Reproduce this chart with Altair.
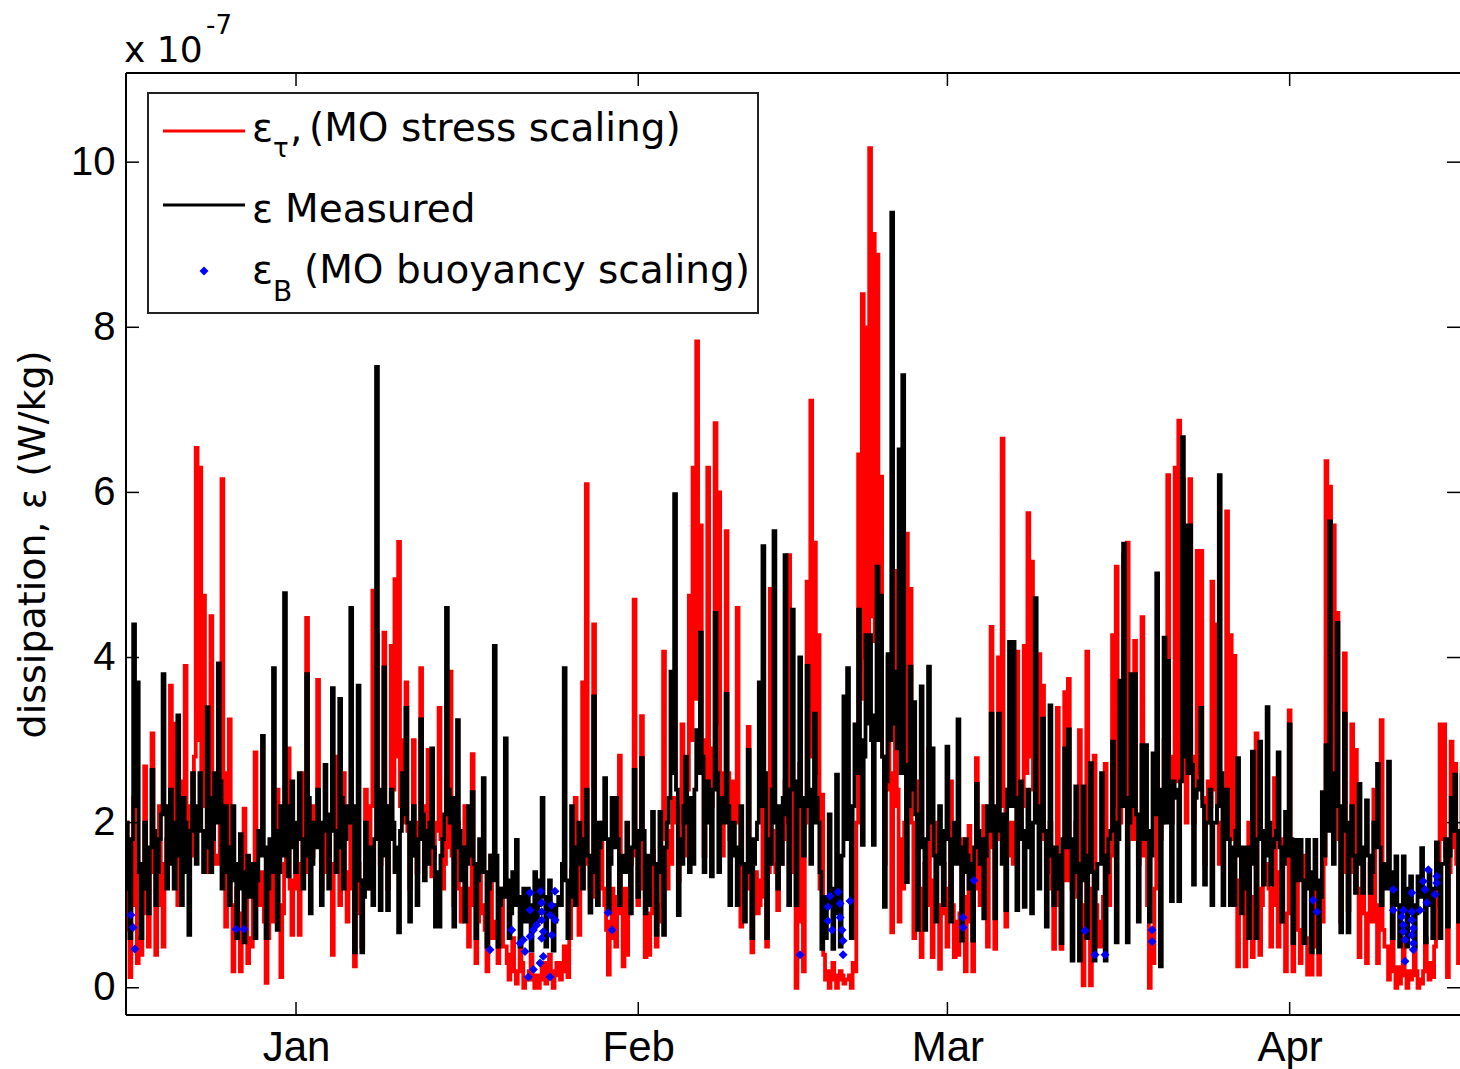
import altair as alt
import pandas as pd

# ---------------- data (values in units of 1e-7 W/kg) ----------------
START_DAY = -16          # days since 2011-01-01 of first row (Dec 16, 2010)
SLOTS = 3                # main readings per day (00, 08, 16 h)

# main readings (peaks / troughs)
red_by_day = [
    [1.0, 0.3, 2.0], [0.13, 2.3, 0.3], [0.4, 2.68, 0.5], [3.08, 0.4, 2.2], [0.5, 1.8, 3.66],
    [3.2, 1.0, 2.5], [3.9, 1.5, 2.2], [6.54, 6.3, 4.75], [1.4, 4.5, 1.5], [1.5, 6.16, 0.74],
    [3.25, 0.2, 1.2], [0.2, 2.17, 0.3], [0.5, 2.85, 1.0], [1.4, 0.06, 1.6], [0.8, 2.4, 0.13],
    [1.5, 2.9, 0.64],
    # January
    [1.8, 0.64, 2.6], [4.48, 1.5, 2.2], [3.73, 1.2, 2.0], [2.0, 0.4, 2.8], [1.0, 2.6, 0.8],
    [2.0, 0.26, 1.5], [0.5, 2.4, 1.2], [4.81, 4.27, 1.5], [4.3, 1.2, 4.14], [4.95, 5.4, 3.0],
    [3.7, 1.2, 3.0], [1.4, 3.87, 2.0], [2.88, 1.35, 2.0], [3.39, 1.2, 2.5], [3.83, 1.0, 2.0],
    [0.8, 2.2, 0.5], [2.83, 0.3, 1.5], [1.0, 0.2, 1.6], [0.8, 0.3, 1.2], [0.5, 0.1, 0.6],
    [0.05, 0.6, 0.0], [0.1, 0.4, 0.0], [0.0, 0.3, 0.05], [0.4, 0.0, 0.3], [0.1, 0.5, 0.13],
    [1.42, 2.3, 0.64], [3.7, 6.1, 1.2], [4.4, 1.0, 2.0], [1.0, 0.16, 1.2], [0.5, 2.81, 0.26],
    [0.4, 1.5, 4.7],
    # February
    [1.0, 3.29, 0.37], [0.4, 1.66, 0.5], [1.0, 4.07, 1.2], [1.5, 2.2, 1.3], [3.19, 1.6, 4.75],
    [6.3, 7.83, 5.6], [1.6, 6.3, 2.2], [6.84, 6.0, 1.6], [5.53, 1.8, 2.5], [4.6, 0.74, 1.5],
    [3.16, 0.43, 1.4], [1.0, 2.5, 0.5], [4.83, 1.5, 0.94], [1.5, 2.5, 5.24], [2.5, 0.0, 2.71],
    [0.2, 4.92, 7.11], [5.39, 4.27, 2.34], [0.1, 0.0, 0.3], [0.0, 0.2, 0.05], [0.1, 0.0, 0.2],
    [6.46, 8.4, 8.0], [10.17, 9.13, 8.88], [6.19, 1.5, 4.0], [0.67, 5.05, 0.8], [1.2, 5.5, 4.83],
    [0.6, 2.5, 0.37], [1.5, 2.9, 0.37], [2.0, 0.23, 1.5],
    # March
    [0.5, 2.5, 0.37], [0.4, 1.8, 0.2], [1.96, 0.2, 2.78], [1.0, 2.2, 0.5], [4.37, 0.47, 4.0],
    [6.65, 0.74, 2.0], [1.5, 4.07, 1.8], [4.14, 5.75, 5.16], [2.5, 4.04, 3.66], [1.5, 2.0, 0.47],
    [3.39, 0.47, 3.58], [3.74, 1.2, 2.0], [3.12, 0.03, 4.07], [0.03, 2.81, 0.5], [0.5, 2.71, 1.0],
    [4.27, 5.1, 2.0], [5.25, 5.39, 2.0], [4.2, 1.5, 4.49], [1.8, 0.0, 0.3], [2.4, 1.8, 3.0],
    [6.21, 2.0, 6.3], [6.87, 6.16, 2.0], [6.16, 2.0, 5.29], [5.29, 1.5, 2.5], [4.92, 4.4, 1.5],
    [2.0, 5.77, 4.27], [4.02, 0.26, 1.5], [0.26, 2.0, 0.37], [3.08, 0.4, 1.5], [1.5, 0.5, 2.54],
    [0.5, 1.8, 0.2],
    # April
    [3.36, 0.2, 1.5], [0.3, 1.6, 0.16], [0.16, 1.2, 0.16], [0.8, 6.38, 6.07], [5.6, 4.54, 0.8],
    [4.05, 0.94, 3.19], [2.88, 0.37, 1.5], [0.3, 1.5, 2.4], [0.3, 3.24, 0.5], [0.1, 1.2, 0.0],
    [0.05, 0.6, 0.0], [0.1, 0.5, 0.0], [0.05, 0.6, 0.1], [0.13, 1.0, 3.19], [3.19, 0.13, 2.98],
    [2.71, 0.3, 2.71], [1.0, 2.0, 1.0],
]

# in-between readings (04, 12, 20 h) - body of the band
red_mid_by_day = [
    [0.8, 1.2, 0.7], [1.0, 1.4, 0.6], [1.2, 0.9, 1.4], [1.6, 1.0, 1.5], [1.3, 1.8, 1.9],
    [1.6, 1.3, 1.8], [2.2, 1.6, 2.8], [3.0, 2.5, 2.2], [2.0, 2.4, 1.6], [2.0, 2.6, 1.2],
    [1.0, 0.6, 0.9], [0.9, 1.1, 0.6], [1.3, 1.0, 1.4], [0.8, 0.6, 1.1], [1.4, 1.0, 0.9],
    [1.6, 1.2, 1.3],
    # January
    [1.2, 1.5, 1.4], [2.2, 1.6, 1.8], [1.9, 1.6, 1.4], [1.3, 1.5, 1.7], [1.6, 1.4, 1.2],
    [1.2, 0.9, 1.0], [1.3, 1.6, 2.2], [2.4, 2.0, 1.8], [2.2, 2.0, 2.4], [2.8, 2.2, 2.0],
    [1.9, 1.8, 1.6], [2.0, 2.2, 1.7], [1.8, 1.6, 1.9], [1.8, 1.5, 1.7], [1.6, 1.4, 1.2],
    [1.1, 0.9, 1.2], [1.0, 0.8, 0.9], [0.7, 0.8, 0.6], [0.6, 0.7, 0.5], [0.3, 0.4, 0.2],
    [0.2, 0.3, 0.1], [0.2, 0.1, 0.15], [0.1, 0.2, 0.3], [0.2, 0.15, 0.25], [0.3, 0.2, 0.6],
    [1.0, 1.3, 1.6], [2.0, 1.5, 1.1], [1.8, 1.3, 1.2], [0.7, 0.8, 0.6], [1.1, 0.9, 1.2],
    [0.9, 1.6, 1.8],
    # February
    [1.5, 1.2, 0.9], [0.9, 1.1, 0.8], [1.8, 2.0, 1.9], [2.3, 2.0, 2.2], [2.0, 2.4, 3.0],
    [3.5, 3.6, 3.0], [2.4, 2.9, 2.6], [3.2, 2.6, 2.4], [2.6, 2.2, 2.0], [2.0, 1.4, 1.2],
    [1.5, 1.0, 0.9], [1.3, 1.1, 1.4], [1.9, 1.4, 1.6], [1.8, 2.0, 2.6], [1.4, 0.8, 1.8],
    [2.0, 2.8, 3.2], [2.6, 1.2, 0.4], [0.2, 0.1, 0.15], [0.1, 0.15, 0.1], [0.15, 0.3, 2.0],
    [3.5, 4.0, 3.8], [4.5, 4.2, 3.6], [2.8, 2.4, 2.6], [2.2, 2.4, 1.8], [2.0, 2.6, 2.0],
    [1.4, 1.2, 1.0], [1.2, 1.0, 1.3], [1.0, 0.9, 1.1],
    # March
    [1.2, 1.0, 0.8], [0.9, 1.1, 0.8], [1.0, 1.2, 1.5], [1.6, 1.3, 1.7], [2.0, 1.8, 2.2],
    [2.4, 1.8, 1.6], [2.0, 1.8, 2.2], [2.6, 2.8, 2.4], [2.2, 2.0, 1.8], [1.4, 1.2, 1.0],
    [1.4, 1.6, 1.3], [1.5, 1.2, 1.1], [1.0, 0.8, 1.2], [0.9, 1.0, 0.8], [1.1, 1.3, 1.6],
    [2.2, 2.0, 2.4], [2.4, 2.2, 1.8], [2.0, 1.9, 1.6], [1.0, 0.7, 1.2], [1.8, 2.0, 2.2],
    [2.6, 2.8, 2.5], [3.0, 2.8, 2.6], [2.8, 2.4, 2.6], [2.3, 2.0, 2.2], [2.4, 2.0, 1.8],
    [2.2, 2.4, 1.8], [1.3, 1.0, 1.2], [1.0, 0.9, 1.1], [1.2, 1.0, 1.3], [1.2, 1.0, 1.4],
    [1.0, 0.8, 0.9],
    # April
    [1.0, 0.8, 0.7], [0.7, 0.6, 0.5], [0.5, 0.6, 0.8], [1.5, 2.2, 2.6], [2.4, 1.8, 1.4],
    [1.6, 1.4, 1.5], [1.2, 1.0, 0.9], [0.9, 0.8, 1.0], [0.9, 0.7, 0.5], [0.3, 0.2, 0.25],
    [0.2, 0.15, 0.2], [0.15, 0.2, 0.1], [0.2, 0.25, 0.3], [0.5, 1.2, 1.8], [1.6, 1.4, 1.7],
    [1.5, 1.2, 1.6], [1.2, 1.3, 1.2],
]

black_by_day = [
    [1.5, 0.8, 2.0], [0.6, 4.4, 3.7], [0.6, 2.0, 0.9], [2.64, 1.0, 1.8], [3.8, 1.2, 2.4],
    [1.2, 3.3, 1.0], [2.0, 0.64, 2.6], [1.5, 2.6, 1.4], [3.4, 1.4, 2.6], [3.93, 1.2, 2.2],
    [1.0, 2.2, 0.6], [1.86, 0.55, 1.6], [1.2, 0.6, 1.9], [3.05, 0.6, 1.8], [3.87, 0.7, 2.2],
    [4.78, 1.35, 2.5],
    # January
    [1.4, 2.6, 1.2], [3.8, 0.9, 2.0], [2.4, 1.0, 2.7], [1.2, 3.63, 1.4], [3.5, 1.2, 2.2],
    [4.6, 0.43, 3.66], [0.43, 2.0, 1.2], [1.0, 7.52, 0.94], [3.88, 0.94, 2.4], [1.4, 0.67, 2.6],
    [3.39, 0.8, 2.2], [1.0, 3.25, 1.3], [1.5, 2.9, 0.74], [0.74, 1.8, 4.6], [2.0, 0.74, 3.24],
    [1.3, 0.8, 2.2], [2.37, 0.6, 1.8], [2.54, 0.5, 1.6], [4.14, 0.5, 1.2], [3.02, 0.6, 1.4],
    [1.79, 0.5, 1.2], [1.2, 0.45, 1.4], [1.0, 2.3, 0.5], [1.3, 0.45, 1.0], [1.0, 3.87, 0.6],
    [2.2, 1.0, 2.0], [1.2, 2.4, 0.91], [3.53, 1.0, 2.0], [2.54, 0.91, 2.3], [2.3, 1.0, 1.5],
    [2.0, 0.9, 2.64],
    # February
    [1.1, 2.78, 0.9], [1.0, 2.13, 0.64], [2.13, 0.64, 2.0], [3.83, 5.98, 0.88], [1.5, 2.8, 1.4],
    [1.5, 3.12, 4.3], [1.4, 2.5, 1.35], [4.54, 1.4, 2.2], [3.56, 1.0, 2.0], [1.0, 2.2, 0.8],
    [2.88, 0.6, 1.8], [3.7, 5.35, 0.6], [1.5, 5.53, 1.2], [1.5, 5.24, 1.0], [4.58, 1.0, 4.0],
    [1.6, 3.9, 1.5], [3.32, 2.0, 0.47], [0.6, 2.1, 0.47], [2.58, 0.5, 3.53], [3.87, 0.6, 3.19],
    [4.58, 1.73, 4.27], [4.27, 1.73, 5.1], [4.75, 0.98, 4.04], [9.39, 3.83, 6.52], [7.42, 1.28, 3.89],
    [3.46, 0.7, 3.65], [0.7, 3.89, 2.9], [0.8, 2.2, 1.0],
    # March
    [2.92, 0.8, 2.0], [3.25, 0.57, 1.8], [1.2, 0.57, 2.47], [1.5, 0.84, 2.2], [3.32, 0.84, 3.32],
    [1.5, 0.94, 4.19], [4.19, 0.94, 2.5], [0.98, 2.4, 0.9], [4.72, 1.2, 3.26], [0.74, 3.42, 1.0],
    [1.2, 0.54, 2.9], [3.13, 0.33, 2.44], [0.33, 2.44, 0.6], [2.72, 0.33, 1.5], [2.6, 0.33, 1.8],
    [2.98, 0.55, 3.72], [5.38, 0.55, 3.8], [3.8, 0.8, 2.94], [2.94, 0.8, 2.84], [5.02, 0.26, 4.24],
    [3.96, 1.05, 2.4], [1.05, 6.67, 5.6], [5.6, 1.25, 2.4], [3.39, 1.25, 2.0], [1.0, 2.0, 6.21],
    [1.0, 2.4, 1.0], [1.0, 2.78, 0.9], [1.2, 0.6, 2.86], [0.6, 2.98, 1.25], [3.4, 1.25, 1.8],
    [2.85, 0.8, 2.13],
    # April
    [3.19, 0.54, 1.79], [1.79, 0.54, 1.79], [0.43, 1.79, 0.43], [2.37, 2.94, 5.65], [1.5, 4.42, 0.67],
    [3.32, 0.67, 2.2], [1.15, 2.47, 1.15], [2.27, 1.15, 2.0], [2.71, 1.0, 1.5], [2.74, 0.6, 1.59],
    [0.5, 1.59, 0.5], [1.35, 0.5, 1.35], [1.69, 0.55, 1.4], [0.6, 1.76, 0.6], [1.5, 0.74, 2.3],
    [2.58, 0.8, 2.58], [1.2, 2.0, 1.2],
]

black_mid_by_day = [
    [1.3, 1.6, 1.2], [1.8, 2.2, 1.4], [1.5, 1.2, 1.7], [1.9, 1.4, 2.1], [2.2, 1.7, 1.5],
    [2.0, 1.6, 2.3], [1.4, 1.9, 2.1], [2.2, 1.9, 1.7], [2.3, 1.8, 2.0], [2.5, 1.6, 1.4],
    [1.7, 1.3, 1.5], [1.2, 1.4, 1.1], [1.5, 1.3, 1.6], [1.7, 1.2, 1.4], [1.9, 1.4, 1.6],
    [2.2, 1.9, 1.7],
    # January
    [2.0, 1.8, 1.6], [2.3, 1.5, 1.7], [1.8, 2.0, 1.9], [2.1, 1.9, 1.7], [2.3, 1.8, 2.0],
    [2.2, 1.5, 1.3], [1.1, 1.5, 1.7], [1.8, 2.4, 1.6], [2.2, 1.8, 2.0], [1.7, 1.9, 2.1],
    [2.0, 1.7, 1.6], [1.8, 2.1, 1.9], [2.0, 1.7, 1.4], [1.6, 2.1, 2.4], [2.3, 1.7, 1.9],
    [1.7, 1.5, 1.6], [1.5, 1.3, 1.4], [1.4, 1.2, 1.3], [1.6, 1.0, 1.1], [1.3, 0.9, 1.0],
    [1.1, 0.9, 0.8], [0.9, 1.0, 0.8], [1.3, 1.1, 0.9], [1.0, 0.8, 1.1], [1.5, 1.3, 1.1],
    [1.7, 1.6, 1.5], [1.8, 1.6, 1.4], [2.0, 1.7, 1.8], [1.8, 1.5, 1.7], [1.8, 1.6, 1.4],
    [1.5, 1.7, 1.9],
    # February
    [1.8, 1.9, 1.6], [1.6, 1.5, 1.4], [1.5, 1.7, 2.3], [2.6, 2.4, 1.8], [2.2, 2.0, 2.3],
    [2.4, 2.6, 2.8], [2.2, 2.0, 2.4], [2.6, 2.3, 2.0], [2.2, 1.8, 1.6], [1.7, 1.5, 1.4],
    [1.8, 1.5, 2.0], [2.2, 2.6, 1.8], [2.4, 2.0, 2.2], [2.3, 2.1, 2.4], [2.5, 2.2, 2.3],
    [2.2, 2.4, 2.0], [2.3, 1.4, 1.1], [1.0, 1.2, 0.9], [1.4, 1.6, 1.8], [2.0, 2.2, 2.6],
    [3.0, 2.8, 3.2], [3.0, 3.3, 3.0], [2.8, 2.5, 3.0], [3.2, 2.9, 2.6], [2.7, 2.2, 2.4],
    [2.1, 1.9, 1.7], [1.8, 2.0, 1.6], [1.5, 1.7, 1.9],
    # March
    [1.8, 1.6, 1.5], [1.7, 1.4, 1.6], [1.5, 1.7, 1.9], [1.8, 1.6, 1.9], [2.0, 2.2, 1.9],
    [2.1, 2.4, 2.2], [2.3, 2.0, 1.8], [1.9, 1.7, 2.0], [2.2, 2.0, 1.9], [1.8, 1.6, 1.7],
    [1.6, 1.8, 1.7], [1.8, 1.5, 1.4], [1.5, 1.3, 1.6], [1.4, 1.2, 1.5], [1.6, 1.4, 1.9],
    [2.0, 1.8, 2.2], [2.3, 2.0, 2.2], [2.1, 1.9, 1.8], [1.9, 1.6, 2.1], [2.4, 2.2, 2.0],
    [2.2, 2.5, 2.3], [2.5, 2.8, 2.6], [2.7, 2.3, 2.5], [2.2, 2.0, 2.4], [2.0, 2.2, 2.6],
    [2.0, 1.8, 1.7], [1.9, 1.6, 1.7], [1.7, 1.5, 1.8], [1.8, 1.9, 1.6], [2.0, 1.7, 1.9],
    [1.7, 1.5, 1.6],
    # April
    [1.8, 1.4, 1.3], [1.3, 1.2, 1.4], [1.2, 1.3, 1.1], [1.6, 1.9, 2.5], [2.6, 2.2, 1.9],
    [2.0, 1.8, 1.6], [1.5, 1.7, 1.6], [1.6, 1.4, 1.7], [1.7, 1.3, 1.2], [1.4, 1.1, 1.0],
    [1.0, 1.2, 0.9], [1.0, 0.9, 1.1], [1.2, 1.0, 1.1], [1.2, 1.3, 1.5], [1.8, 1.6, 1.9],
    [1.9, 1.7, 1.8], [1.6, 1.5, 1.6],
]

# MO buoyancy scaling estimates: day (since 2011-01-01) and value
buoy_day = [-14.95, -14.76, -14.6, -5.43, -4.71,
            17.57, 19.54, 20.29, 20.59, 20.74, 21.04, 21.2, 21.2, 21.2, 21.5, 21.5, 21.8,
            22.1, 22.16, 22.25, 22.25, 22.25, 22.25, 22.4, 22.4, 23.01, 23.01, 23.16, 23.16,
            23.46, 23.46,
            28.26, 28.62,
            45.65, 48.19, 48.19, 48.37, 48.55, 49.09, 49.28, 49.28, 49.46, 49.55, 49.55, 50.18,
            60.42, 60.42, 61.41,
            71.47, 72.37, 73.28, 77.54, 77.54,
            92.12, 92.48,
            99.39, 99.39, 100.15, 100.3, 100.3, 100.3, 100.45, 100.45, 101.06, 101.06, 101.06,
            101.06, 101.2, 101.2, 101.2, 101.81, 102.11, 102.26, 102.42, 102.56, 103.17, 103.32,
            103.32]
buoy_val = [0.88, 0.73, 0.47, 0.71, 0.71,
            0.46, 0.70, 0.54, 0.58, 0.44, 0.13, 1.15, 0.94, 0.62, 0.70, 0.22, 0.76,
            0.30, 1.17, 1.03, 0.92, 0.82, 0.60, 0.68, 0.38, 0.88, 0.13, 1.00, 0.64,
            1.17, 0.82,
            0.91, 0.70,
            0.40, 0.98, 0.81, 1.11, 0.70, 1.16, 1.02, 0.85, 0.70, 0.57, 0.40, 1.05,
            0.85, 0.73, 1.30,
            0.69, 0.40, 0.40, 0.70, 0.56,
            1.06, 0.92,
            1.19, 0.94, 0.86, 0.94, 0.76, 0.68, 0.58, 0.32, 1.15, 0.92, 0.82,
            0.64, 0.72, 0.54, 0.46, 0.94, 1.29, 1.19, 1.03, 1.43, 1.13, 1.35,
            1.27]

month_tick_days = [0, 31, 59, 90]
month_tick_labels = ["Jan", "Feb", "Mar", "Apr"]
y_tick_values = [0, 2, 4, 6, 8, 10]

x_domain = [-15.40, 105.43]
y_domain = [-0.33, 11.08]


# ---------------- tables ----------------
def build(main, mid):
    rows = []
    for i, (a, b) in enumerate(zip(main, mid)):
        for j in range(SLOTS):
            t = START_DAY + i + j / SLOTS
            rows.append({"day": t, "val": a[j]})
            rows.append({"day": t + 0.5 / SLOTS, "val": b[j]})
    return pd.DataFrame(rows)


df_red = build(red_by_day, red_mid_by_day)
df_black = build(black_by_day, black_mid_by_day)
df_buoy = pd.DataFrame({"day": buoy_day, "val": buoy_val})
df_xt = pd.DataFrame({"day": month_tick_days})
df_yt = pd.DataFrame({"val": y_tick_values})
one = pd.DataFrame({"k": [0]})

W, H = 1334, 942
AXF = "Liberation Sans"
TXF = "DejaVu Sans"
LW = 3.8
DIAMOND = 80

xs = alt.Scale(domain=x_domain, nice=False, zero=False)
ys = alt.Scale(domain=y_domain, nice=False, zero=False)

label_expr = " : ".join(
    f"datum.value == {d} ? '{l}'" for d, l in zip(month_tick_days[:-1], month_tick_labels[:-1])
) + f" : '{month_tick_labels[-1]}'"

x_axis = alt.Axis(values=month_tick_days, labelExpr=label_expr, ticks=False, tickSize=0,
                  domain=False, grid=False, labelFont=AXF, labelFontSize=42,
                  labelColor="black", labelPadding=12, title=None)
y_axis = alt.Axis(values=y_tick_values, ticks=False, tickSize=0, domain=False, grid=False,
                  labelFont=AXF, labelFontSize=40, labelColor="black", labelPadding=11,
                  title="dissipation, \u03b5 (W/kg)", titleFont=TXF, titleFontSize=38,
                  titleFontWeight="normal", titleColor="black", titleAngle=270,
                  titleBaseline="alphabetic", titleAlign="center", titleX=-82, titleY=H / 2)

X = alt.X("day:Q", scale=xs, axis=x_axis, title=None)
Y = alt.Y("val:Q", scale=ys, axis=y_axis, title="dissipation, \u03b5 (W/kg)")

red_line = alt.Chart(df_red).mark_line(color="#ff0000", strokeWidth=LW, interpolate="step",
                                       clip=True).encode(x=X, y=Y)
black_line = alt.Chart(df_black).mark_line(color="#000000", strokeWidth=LW, interpolate="step",
                                           clip=True).encode(x=X, y=Y)
buoy_pts = alt.Chart(df_buoy).mark_point(shape="diamond", filled=True, color="#0000ff",
                                         size=DIAMOND, opacity=1, clip=True).encode(x=X, y=Y)

# inward ticks
tick_style = dict(color="black", strokeWidth=1.5)
xt_bottom = alt.Chart(df_xt).mark_rule(**tick_style).encode(
    x=X, y=alt.value(H - 13), y2=alt.value(H))
xt_top = alt.Chart(df_xt).mark_rule(**tick_style).encode(
    x=X, y=alt.value(0), y2=alt.value(13))
yt_left = alt.Chart(df_yt).mark_rule(**tick_style).encode(
    y=Y, x=alt.value(0), x2=alt.value(13))
yt_right = alt.Chart(df_yt).mark_rule(**tick_style).encode(
    y=Y, x=alt.value(W - 13), x2=alt.value(W))

# frame (left, top, bottom)
frame_style = dict(color="black", strokeWidth=2)
f_left = alt.Chart(one).mark_rule(**frame_style).encode(
    x=alt.value(0), y=alt.value(0), y2=alt.value(H))
f_top = alt.Chart(one).mark_rule(**frame_style).encode(
    x=alt.value(0), x2=alt.value(W), y=alt.value(0))
f_bottom = alt.Chart(one).mark_rule(**frame_style).encode(
    x=alt.value(0), x2=alt.value(W), y=alt.value(H))


def txt(s, x, y, size, font=TXF):
    return alt.Chart(one).mark_text(align="left", baseline="alphabetic", font=font,
                                    fontSize=size, color="black").encode(
        x=alt.value(x), y=alt.value(y), text=alt.value(s))


# exponent label
exp_main = txt("x 10", -2, -11, 36)
exp_sup = txt("-7", 80, -39, 26)

# legend (positions relative to plot origin)
leg_box = alt.Chart(one).mark_rect(fill="white", stroke="#222222", strokeWidth=2).encode(
    x=alt.value(22), x2=alt.value(632), y=alt.value(20), y2=alt.value(240))
leg_red = alt.Chart(one).mark_rule(color="#ff0000", strokeWidth=3).encode(
    x=alt.value(37), x2=alt.value(119), y=alt.value(58))
leg_black = alt.Chart(one).mark_rule(color="#000000", strokeWidth=3).encode(
    x=alt.value(37), x2=alt.value(119), y=alt.value(132))
leg_blue = alt.Chart(one).mark_point(shape="diamond", filled=True, color="#0000ff",
                                     size=DIAMOND, opacity=1).encode(
    x=alt.value(78), y=alt.value(198))

legend_texts = [
    txt("\u03b5", 126, 68, 39), txt("\u03c4", 147, 84, 26), txt(",", 164, 68, 39),
    txt("(MO stress scaling)", 183, 68, 39),
    txt("\u03b5", 126, 149, 39), txt("Measured", 159, 149, 39),
    txt("\u03b5", 126, 210, 39), txt("B", 147, 228, 28),
    txt("(MO buoyancy scaling)", 178, 210, 39),
]

chart = alt.layer(
    red_line, black_line, buoy_pts,
    xt_bottom, xt_top, yt_left, yt_right,
    f_left, f_top, f_bottom,
    exp_main, exp_sup,
    leg_box, leg_red, leg_black, leg_blue, *legend_texts,
).properties(
    width=W, height=H,
    autosize=alt.AutoSizeParams(type="none"),
    padding={"left": 126, "top": 73, "right": 0, "bottom": 54},
    background="white",
).configure_view(strokeWidth=0)

chart.save("out.html", embed_options={"renderer": "svg", "actions": False})
